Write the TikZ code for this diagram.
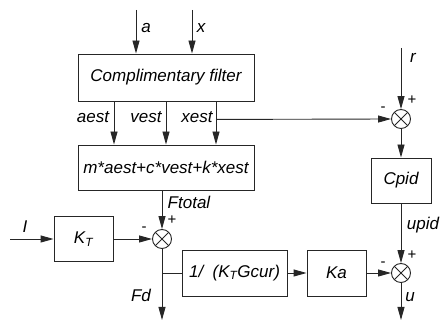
\documentclass[tikz,border=0pt]{standalone}
\usepackage{fontspec}
\setmainfont{Liberation Sans}
\usetikzlibrary{arrows.meta}
\definecolor{linec}{gray}{0.15}
\begin{document}
\begin{tikzpicture}[x=1pt,y=-1pt,
  line width=0.9pt, draw=linec,
  box/.style={draw=linec, rectangle, inner sep=0pt, font=\fontsize{17}{19}\selectfont\itshape},
  lbl/.style={inner sep=0pt, font=\fontsize{17}{19}\selectfont\itshape},
  sgn/.style={inner sep=0pt, font=\fontsize{15}{17}\selectfont},
  arr/.style={draw=linec, -{Triangle[length=13pt,width=7pt]}},
  sumc/.style={draw=linec, circle, minimum size=19pt, inner sep=0pt,
    path picture={\draw[linec,line width=0.8pt] (path picture bounding box.north west) -- (path picture bounding box.south east)
      (path picture bounding box.north east) -- (path picture bounding box.south west);}}]
\useasboundingbox (0,0) rectangle (440,320);
% boxes
\node[box, minimum width=176pt, minimum height=47pt] (cf) at (166,77.5) {Complimentary filter};
\node[box, minimum width=176pt, minimum height=45pt] (eq) at (166,167.5) {m*aest+c*vest+k*xest};
\node[box, minimum width=59pt, minimum height=45pt] (kt) at (83.5,239) {K\textsubscript{T}};
\node[box, minimum width=105pt, minimum height=46pt] (inv) at (234.5,273) {1/\ \ (K\textsubscript{T}Gcur)};
\node[box, minimum width=59pt, minimum height=46pt] (ka) at (336.5,273) {Ka};
\node[box, minimum width=60pt, minimum height=45pt] (cpid) at (401,180.5) {Cpid};
% summing junctions
\node[sumc] (s1) at (162,239) {};
\node[sumc] (s2) at (401,119) {};
\node[sumc] (s3) at (401,273) {};
% free ends
\coordinate (ain) at (136,10);
\coordinate (xin) at (192,10);
\coordinate (rin) at (401,48);
\coordinate (iin) at (10,239);
\coordinate (fdout) at (162,320);
\coordinate (uout) at (401,320);
% connectors
\draw[arr] (ain) -- (ain |- cf.north);
\draw[arr] (xin) -- (xin |- cf.north);
\draw[arr] ([xshift=-52pt]cf.south) -- ([xshift=-52pt]eq.north);
\draw[arr] (cf.south) -- (eq.north);
\draw[arr] ([xshift=50pt]cf.south) -- ([xshift=50pt]eq.north);
\draw[arr] ([xshift=50pt]cf.south) ++(0,18) -- (s2.west);
\draw[arr] (rin) -- (s2.north);
\draw[arr] (s2.south) -- (cpid.north);
\draw[arr] (cpid.south) -- (s3.north);
\draw[arr] (s3.south) -- (uout);
\draw[arr] (s1 |- eq.south) -- (s1.north);
\draw[arr] (iin) -- (kt.west);
\draw[arr] (kt.east) -- (s1.west);
\draw[arr] (s1.south) -- (fdout);
\draw (s1 |- inv.west) -- (inv.west);
\draw[arr] (inv.east) -- (ka.west);
\draw[arr] (ka.east) -- (s3.west);
% labels
\node[lbl] (la) at (146,28) {a};
\node[lbl] (lx) at (201,28) {x};
\node[lbl] (laest) at (93,117) {aest};
\node[lbl] (lvest) at (146,117) {vest};
\node[lbl] (lxest) at (197,117) {xest};
\node[lbl] (lft) at (189,202) {Ftotal};
\node[lbl] (lI) at (25,227) {I};
\node[lbl] (lfd) at (141,295) {Fd};
\node[lbl] (lr) at (413,58) {r};
\node[lbl] (lupid) at (423,225) {upid};
\node[lbl] (lu) at (410,297) {u};
\node[sgn] (p1) at (172,220) {+};
\node[sgn] (m1) at (144,229) {-};
\node[sgn] (p2) at (412,100) {+};
\node[sgn] (m2) at (383,109) {-};
\node[sgn] (p3) at (412,255) {+};
\node[sgn] (m3) at (383,264) {-};
\end{tikzpicture}
\end{document}
